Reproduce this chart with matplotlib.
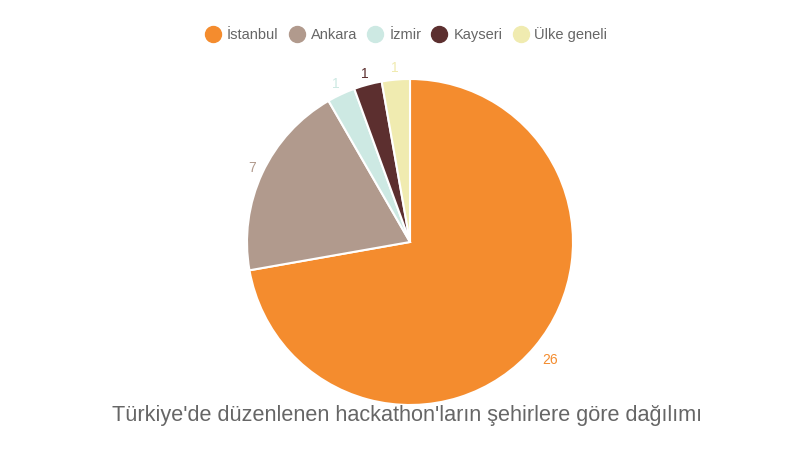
import numpy as np
import matplotlib
matplotlib.use("Agg")
import matplotlib.pyplot as plt
from matplotlib.lines import Line2D

plt.rcParams['font.family'] = ['Liberation Sans', 'DejaVu Sans']

cities = ["İstanbul", "Ankara", "İzmir", "Kayseri", "Ülke geneli"]
counts = [26, 7, 1, 1, 1]
colors = ["#F48C2E", "#B19A8D", "#CDE9E3", "#5C2F2F", "#F0EBB0"]
title = "Türkiye'de düzenlenen hackathon'ların şehirlere göre dağılımı"

fig = plt.figure(figsize=(8, 4.5), dpi=100)
# pie centre ~ (410, 242) px, radius ~163 px
cx, cy, r = 410, 242, 163
ax = fig.add_axes([(cx - r) / 800, (450 - cy - r) / 450, 2 * r / 800, 2 * r / 450])

wedges, texts = ax.pie(counts, colors=colors, startangle=90, counterclock=False,
                       labels=[str(c) for c in counts], labeldistance=1.08,
                       wedgeprops=dict(edgecolor="white", linewidth=1.5))
for w, t, c in zip(wedges, texts, colors):
    # push wider labels a bit further out
    ang = np.deg2rad((w.theta1 + w.theta2) / 2)
    d = 1.07 + 0.055 * (len(t.get_text()) - 1)
    t.set_position((d * np.cos(ang), d * np.sin(ang)))
    t.set_color(c)
    t.set_fontsize(10)
    t.set_ha("center")
    t.set_va("center")
ax.set_xlim(-1, 1)
ax.set_ylim(-1, 1)
ax.set_aspect("equal")
ax.axis("off")

handles = [Line2D([0], [0], marker="o", linestyle="none", markersize=11.5,
                  markerfacecolor=c, markeredgecolor=c) for c in colors]
fig.legend(handles, cities, loc="center", bbox_to_anchor=(0.507, 1 - 35 / 450),
           ncol=5, frameon=False, fontsize=10.5, labelcolor="#666666",
           handletextpad=0.3, columnspacing=0.6, handlelength=1.3)

fig.text(0.509, 1 - 416 / 450, title, ha="center", va="center",
         fontsize=15.6, color="#666666")

fig.savefig("out.png", dpi=100)
